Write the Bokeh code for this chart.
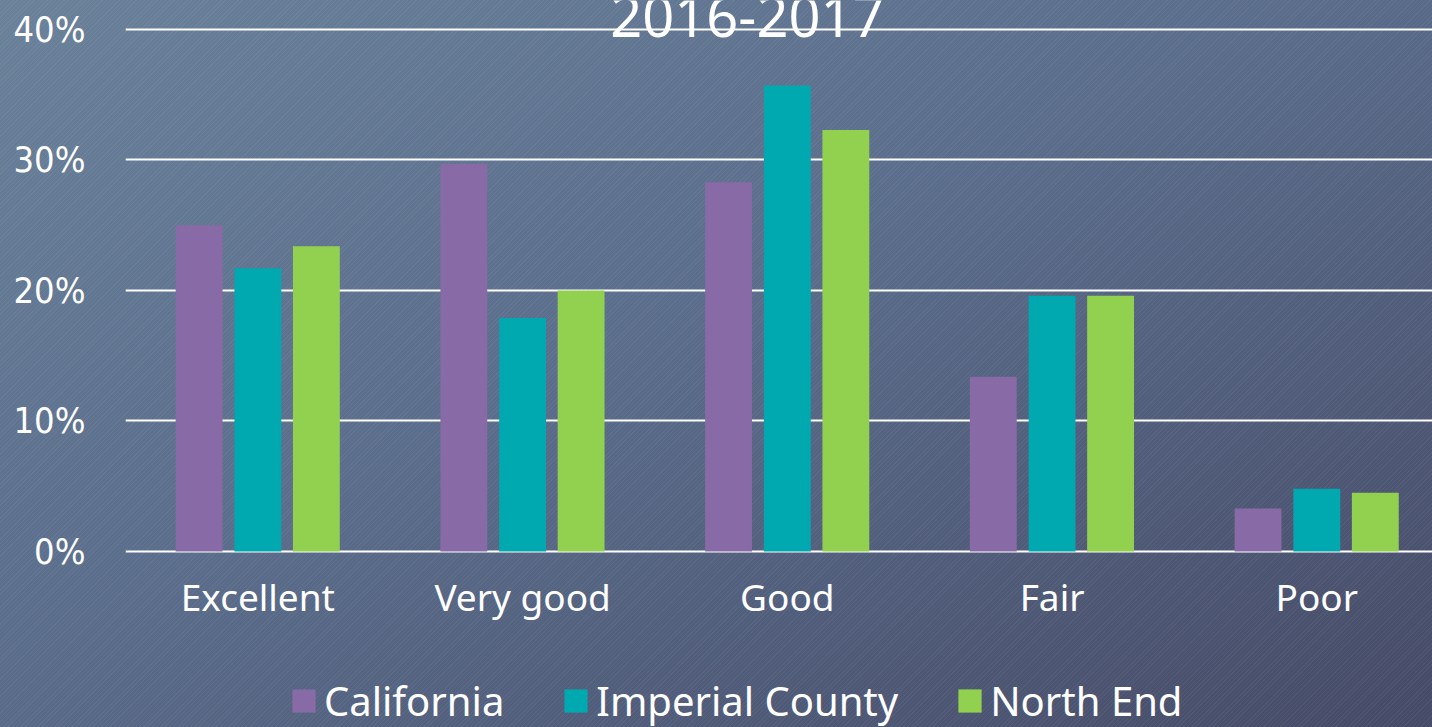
from bokeh.plotting import figure
from bokeh.models import (FixedTicker, PrintfTickFormatter, Legend, LegendItem,
                          ColumnDataSource, Range1d)
from bokeh.transform import dodge
from bokeh.core.properties import value
from bokeh.embed import file_html
from bokeh.resources import INLINE

# ---- data ----
categories = ["Excellent", "Very good", "Good", "Fair", "Poor"]
california = [25.0, 29.7, 28.3, 13.4, 3.3]
imperial = [21.7, 17.9, 35.7, 19.6, 4.8]
north_end = [23.4, 20.0, 32.3, 19.6, 4.5]
series = ["California", "Imperial County", "North End"]
colors = ["#886AA6", "#00A8B0", "#92D050"]
y_ticks = [0, 10, 20, 30, 40]
title_text = "2016-2017"

W, H = 1432, 727
pos = [i + 0.5 for i in range(len(categories))]
src = ColumnDataSource(dict(x=pos, cal=california, imp=imperial, ne=north_end))

BG_IMAGE = ("repeating-linear-gradient(135deg, rgba(255,255,255,0.045) 0px, "
            "rgba(255,255,255,0.045) 1px, rgba(0,0,0,0) 1px, rgba(0,0,0,0) 3px), "
            "linear-gradient(to bottom right, #6a819a 0%, #5a6d8b 45%, #454a66 100%)")

p = figure(width=W, height=H, output_backend="svg", toolbar_location=None,
           x_range=Range1d(0, 4.937), y_range=Range1d(-13.487, 42.222),
           min_border_left=125, min_border_right=0, min_border_top=0,
           min_border_bottom=0)
p.background_fill_alpha = 0
p.border_fill_alpha = 0
p.outline_line_color = None
p.styles = {"background-color": "#566987", "background-image": BG_IMAGE,
            "background-attachment": "fixed"}

bw = 0.177
offs = [-0.222, 0.0, 0.221]
fields = ["cal", "imp", "ne"]
renderers = []
for f, o, c in zip(fields, offs, colors):
    r = p.vbar(x=dodge("x", o, range=p.x_range), top=f, bottom=0, width=bw,
               source=src, fill_color=c, line_color=None)
    renderers.append(r)

# title (clipped at top like the reference)
p.text(x=[2.349], y=[40.996], text=[title_text], text_color="white",
       text_font=value("Noto Sans"), text_font_size="56px",
       text_align="center", text_baseline="alphabetic")

# grid
p.xgrid.grid_line_color = None
p.ygrid.ticker = FixedTicker(ticks=y_ticks)
p.ygrid.grid_line_color = "white"
p.ygrid.grid_line_width = 2

# y axis
ya = p.yaxis[0]
ya.ticker = FixedTicker(ticks=y_ticks)
ya.formatter = PrintfTickFormatter(format="%d%%")
ya.axis_line_color = None
ya.major_tick_line_color = None
ya.minor_tick_line_color = None
ya.major_label_text_color = "white"
ya.major_label_text_font = "'DejaVu Sans Condensed', 'Liberation Sans Narrow', Roboto, sans-serif"
ya.major_label_text_font_size = "36px"
ya.major_label_standoff = 34

# x axis at y = 0
xa = p.xaxis[0]
xa.fixed_location = 0
xa.ticker = FixedTicker(ticks=pos)
xa.major_label_overrides = {v: c for v, c in zip(pos, categories)}
xa.axis_line_color = None
xa.major_tick_line_color = None
xa.minor_tick_line_color = None
xa.major_label_text_color = "white"
xa.major_label_text_font = "Noto Sans"
xa.major_label_text_font_size = "37px"
xa.major_label_standoff = 14

legend = Legend(items=[LegendItem(label=s, renderers=[r]) for s, r in zip(series, renderers)],
                location=(164, -1), orientation="horizontal")
legend.background_fill_alpha = 0
legend.border_line_alpha = 0
legend.label_text_color = "white"
legend.label_text_font = "Noto Sans"
legend.label_text_font_size = "40px"
legend.glyph_width = 29
legend.glyph_height = 29
legend.label_standoff = 6
legend.spacing = 57
legend.margin = 0
legend.padding = 0
legend.label_height = 23
p.add_layout(legend, "center")

html = file_html(p, INLINE)
css = ("<style>html, body { background-color:#566987; background-image:" + BG_IMAGE +
       "; background-attachment:fixed; }</style>")
html = html.replace("</head>", css + "</head>", 1)
open("out.html", "w").write(html)
